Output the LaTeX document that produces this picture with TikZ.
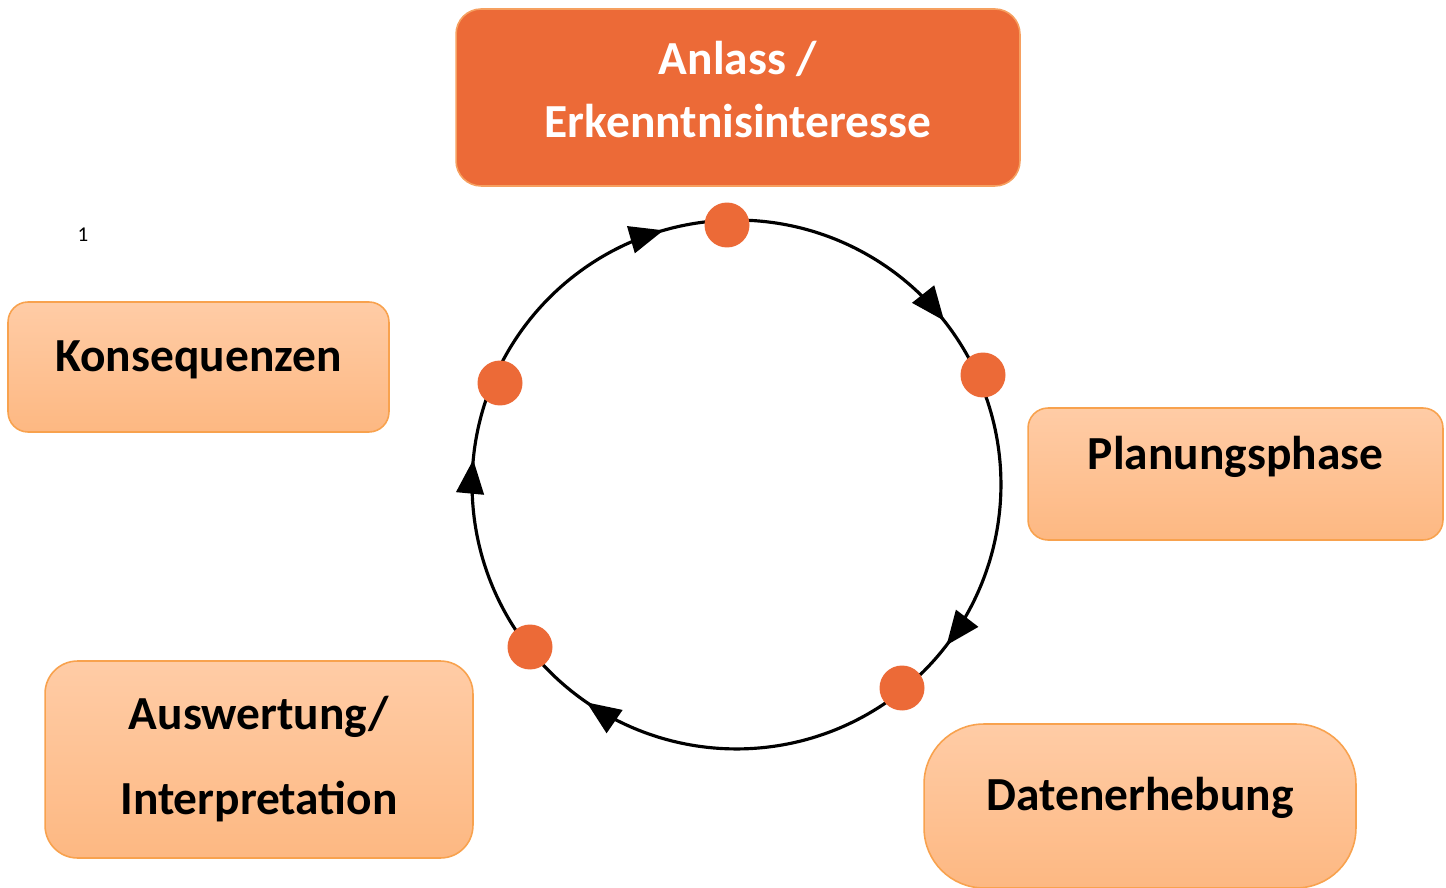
\documentclass[tikz,border=0pt]{standalone}
\usepackage{fontspec}
\setmainfont{Carlito}
\usetikzlibrary{arrows.meta,calc,decorations.markings}

\definecolor{kreisorange}{RGB}{236,106,55}
\definecolor{pfirsichoben}{RGB}{255,204,166}
\definecolor{pfirsichunten}{RGB}{253,184,130}
\definecolor{pfirsichrand}{RGB}{248,162,78}
\definecolor{anlassrand}{RGB}{246,160,96}

\tikzset{
  phase/.style={draw=pfirsichrand, line width=0.9pt, top color=pfirsichoben, bottom color=pfirsichunten,
    font=\fontsize{27}{35.8}\selectfont\bfseries, align=center, inner sep=0pt},
  anlass/.style={phase, draw=anlassrand, fill=kreisorange, top color=kreisorange, bottom color=kreisorange, text=white},
  punkt/.style={circle, fill=kreisorange, minimum size=0.9cm, inner sep=0pt},
  ring/.style={line width=1.8pt},
  spitze/.style={postaction={decorate}, decoration={markings,
    mark=at position #1 with {\arrow{Triangle[length=0.68cm,width=0.55cm]}}}},
  grund/.style 2 args={text height=#1, text depth=#2},
}

\begin{document}
\begin{tikzpicture}[x=0.02cm, y=0.02cm]
  \useasboundingbox (0,0) rectangle (1446,-888);

  % Kästen
  \node[anlass, minimum width=11.28cm, minimum height=3.54cm, rounded corners=0.5cm, grund={50pt}{4.4pt}] (anl) at (738,-97.5) {Anlass /\\Erkenntnisinteresse};
  \node[phase, minimum width=7.62cm, minimum height=2.6cm, rounded corners=0.4cm, grund={12pt}{7.4pt}] (kons) at (198.5,-367) {Konsequenzen};
  \node[phase, minimum width=8.3cm, minimum height=2.64cm, rounded corners=0.4cm, grund={12pt}{16.6pt}] (plan) at (1235.5,-474) {Planungsphase};
  \node[phase, minimum width=8.56cm, minimum height=3.94cm, rounded corners=0.65cm, font=\fontsize{27}{48.4}\selectfont\bfseries] (ausw) at (259,-759.5) {Auswertung/\\Interpretation};
  \node[phase, minimum width=8.64cm, minimum height=3.28cm, rounded corners=1.2cm, grund={12pt}{6.4pt}] (daten) at (1140,-806) {Datenerhebung};

  \node[font=\fontsize{12}{14}\selectfont] (fn) at (83,-235) {1};

  % Kreis: Mittelpunkt O, Radius 264.5 px
  \coordinate (O) at (736.5,-484.5);
  \foreach \name/\ang in {p1/92.1, p2/23.95, p3/-50.9, p4/-141.8, p5/156.8}
    \coordinate (\name) at ($(O)+(\ang:5.29cm)$);

  \draw[ring, spitze=0.79]  (p1) arc[start angle=92.1,  end angle=23.95,  radius=5.29cm];
  \draw[ring, spitze=0.82]  (p2) arc[start angle=23.95, end angle=-50.9,  radius=5.29cm];
  \draw[ring, spitze=0.81]  (p3) arc[start angle=-50.9, end angle=-141.8, radius=5.29cm];
  \draw[ring, spitze=0.71]  (p4) arc[start angle=218.2, end angle=156.8,  radius=5.29cm];
  \draw[ring, spitze=0.785] (p5) arc[start angle=156.8, end angle=92.1,   radius=5.29cm];

  % Punkte auf dem Kreis
  \node[punkt] (d1) at (727,-225) {};
  \node[punkt] (d2) at (983,-375) {};
  \node[punkt] (d3) at (902,-688) {};
  \node[punkt] (d4) at (530,-647) {};
  \node[punkt] (d5) at (500,-383) {};
\end{tikzpicture}
\end{document}
